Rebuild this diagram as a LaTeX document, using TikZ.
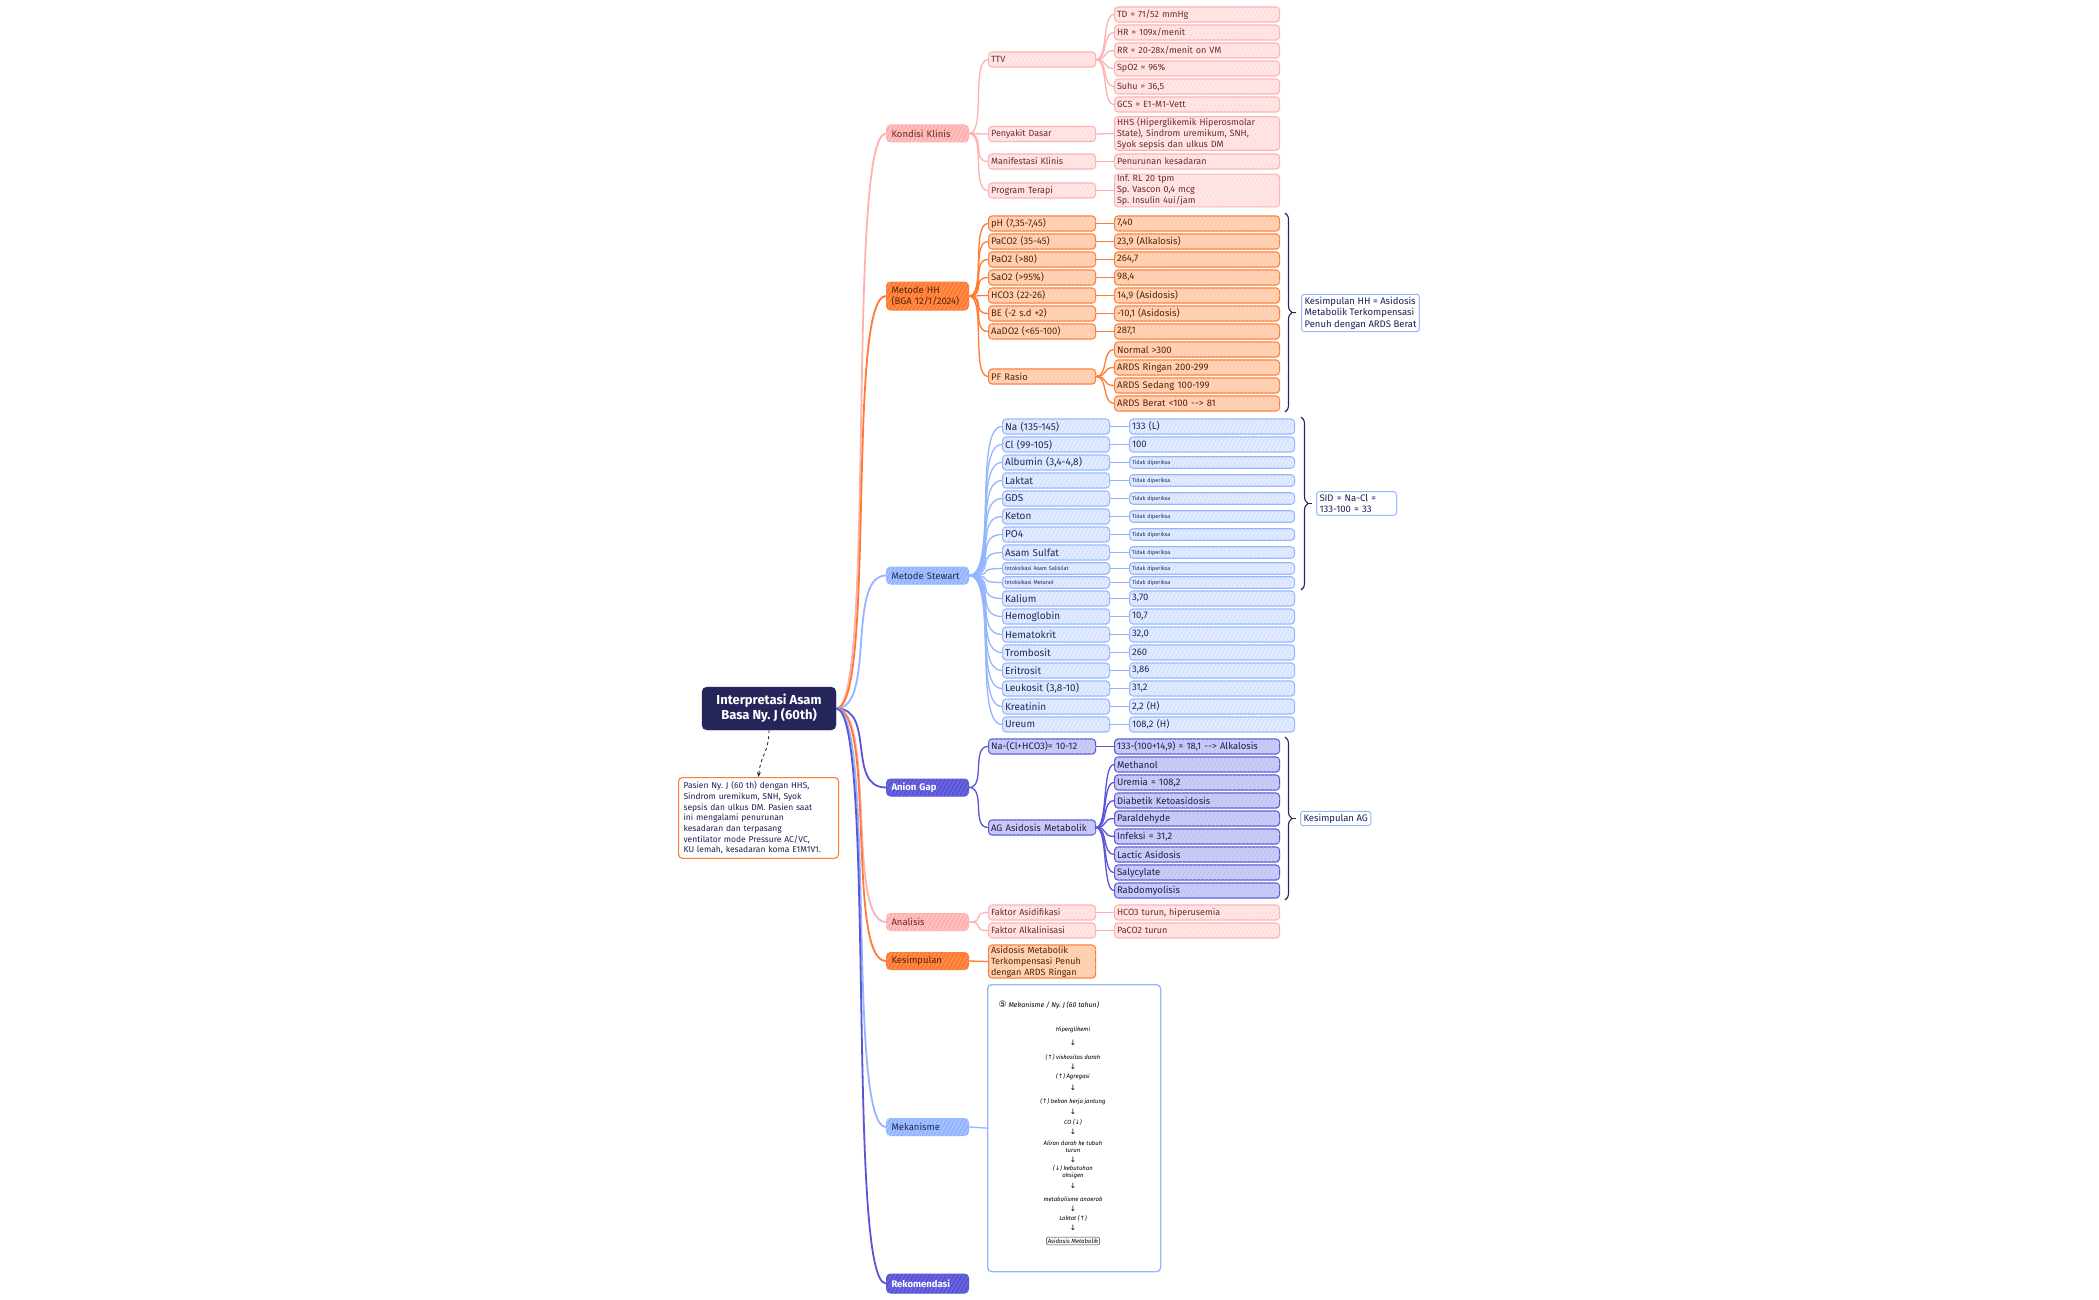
\documentclass[tikz,border=0pt]{standalone}
\usepackage{fontspec}
\setmainfont{Fira Sans}
\newfontfamily\symfont{DejaVu Sans}
\usetikzlibrary{positioning, arrows.meta, calc, patterns.meta, decorations.pathreplacing}
\frenchspacing
\definecolor{mNavy}{HTML}{25255B}
\definecolor{mPink}{HTML}{FFB1B1}
\definecolor{mPinkL}{HTML}{FFE7E7}
\definecolor{mPinkT}{HTML}{6E2A2A}
\definecolor{mOrange}{HTML}{FF7B32}
\definecolor{mOrangeL}{HTML}{FFD3B6}
\definecolor{mOrangeT}{HTML}{5A2400}
\definecolor{mBlue}{HTML}{94B6FF}
\definecolor{mBlueL}{HTML}{E3ECFF}
\definecolor{mBlueT}{HTML}{1F2B5B}
\definecolor{mIndigo}{HTML}{5955D9}
\definecolor{mIndigoL}{HTML}{CBCBF7}
\definecolor{mIndigoT}{HTML}{1F1F55}

\begin{document}
\begin{tikzpicture}[x=1pt, y=-1pt,
  every node/.style={font=\fontsize{9}{11}\selectfont},
  hatch/.style={postaction={pattern={Lines[angle=60,distance=3.5pt,line width=0.5pt]},
                pattern color=#1}},
  curvy/.style={to path={.. controls +(#1,0) and +(-#1,0) .. (\tikztotarget)}},
  topic/.style={anchor=west, rounded corners=4pt, line width=1pt, minimum height=17pt,
                text width=72pt, inner xsep=5pt, inner ysep=1.5pt, align=left,
                font=\fontsize{9.5}{11.5}\selectfont},
  subbox/.style={anchor=west, rounded corners=3.5pt, line width=1.1pt, minimum height=15pt,
                 inner xsep=2.5pt, inner ysep=1pt, align=left},
  kkkey/.style={subbox, draw=mPink, fill=mPinkL, text=mPinkT, hatch=mPink!60, text width=102pt},
  kkleaf/.style={kkkey, text width=160pt},
  hhkey/.style={subbox, draw=mOrange, fill=mOrangeL, text=mOrangeT, hatch=mOrange!45, text width=102pt,
                font=\fontsize{9.5}{11}\selectfont},
  hhleaf/.style={hhkey, text width=160pt},
  stkey/.style={subbox, draw=mBlue, fill=mBlueL, text=mBlueT, hatch=mBlue!55, text width=102pt,
                font=\fontsize{10}{12}\selectfont},
  stleaf/.style={stkey, text width=160pt, font=\fontsize{9.5}{11}\selectfont},
  smallrow/.style={minimum height=11.5pt, font=\fontsize{5.5}{6.5}\selectfont},
  agkey/.style={subbox, draw=mIndigo, fill=mIndigoL, text=mIndigoT, hatch=mIndigo!40, text width=102pt,
                font=\fontsize{9.5}{11}\selectfont},
  agleaf/.style={agkey, text width=160pt},
  summ/.style={anchor=west, draw=mBlue, fill=white, text=mIndigoT, rounded corners=3pt,
               line width=1pt, align=left, inner xsep=3pt, inner ysep=2.5pt,
               font=\fontsize{9.5}{11.5}\selectfont},
  brc/.style={mNavy, line width=1.1pt, decorate, decoration={brace, amplitude=7pt}},
  pline/.style={mPink, line width=1.3pt},
  oline/.style={mOrange, line width=1.3pt},
  bline/.style={mBlue, line width=1.3pt},
  iline/.style={mIndigo, line width=1.3pt},
  hand/.style={font=\fontsize{6}{7}\selectfont\itshape, text=black, align=center, inner sep=0.5pt},
  handarr/.style={font=\symfont\fontsize{7.5}{8}\selectfont, text=black, inner sep=0pt},
]
  \fill[white] (0,0) rectangle (2099,1300);
  \useasboundingbox (0,0) rectangle (2099,1300);

  % Root and note
  \node[fill=mNavy, draw=mNavy, rounded corners=5pt, text=white, align=center,
        minimum width=134pt, minimum height=43pt, inner sep=2pt,
        font=\fontsize{13}{15}\selectfont\bfseries] (root) at (769,708.5)
        {Interpretasi Asam\\Basa Ny. J (60th)};
  \node[draw=mOrange, line width=1.1pt, rounded corners=4pt, fill=white, text=mIndigoT,
        anchor=north west, text width=150pt, inner xsep=5pt, inner ysep=4pt, align=left,
        font=\fontsize{8.5}{10.7}\selectfont] (note) at (678,777)
        {Pasien Ny. J (60 th) dengan HHS,\\Sindrom uremikum, SNH, Syok\\sepsis dan ulkus DM. Pasien saat\\ini mengalami penurunan\\kesadaran dan terpasang\\ventilator mode Pressure AC/VC,\\KU lemah, kesadaran koma E1M1V1.};
  \draw[mNavy, line width=0.9pt, dashed, -{Stealth[length=5pt,width=4pt]}]
    (root.south) .. controls +(0,22) and +(2,-22) .. (note.north);

  % Main topics
  \node[topic, fill=mPink, draw=mPink, text=mPinkT, hatch=white!50!mPink] (kk) at (886,133.5) {Kondisi Klinis};
  \node[topic, fill=mOrange, draw=mOrange, text=mOrangeT, hatch=white!35!mOrange, minimum height=28pt] (hh) at (886,296) {Metode HH\\(BGA 12/1/2024)};
  \node[topic, fill=mBlue, draw=mBlue, text=mBlueT, hatch=white!40!mBlue] (st) at (886,575.5) {Metode Stewart};
  \node[topic, fill=mIndigo, draw=mIndigo, text=white, hatch=white!25!mIndigo,
        font=\fontsize{9.5}{11.5}\selectfont\bfseries] (ag) at (886,787.5) {Anion Gap};
  \node[topic, fill=mPink, draw=mPink, text=mPinkT, hatch=white!50!mPink] (an) at (886,922) {Analisis};
  \node[topic, fill=mOrange, draw=mOrange, text=mOrangeT, hatch=white!35!mOrange] (ks) at (886,961) {Kesimpulan};
  \node[topic, fill=mBlue, draw=mBlue, text=mBlueT, hatch=white!40!mBlue] (mek) at (886,1127) {Mekanisme};
  \node[topic, fill=mIndigo, draw=mIndigo, text=white, hatch=white!25!mIndigo, minimum height=19pt,
        font=\fontsize{9.5}{11.5}\selectfont\bfseries] (rek) at (886,1283.5) {Rekomendasi};

  % Kondisi Klinis
  \node[kkkey] (ttv) at (988,59.5) {TTV};
  \foreach \t [count=\i, evaluate=\i as \y using {-3.5+\i*18}] in
    {TD = 71/52 mmHg, HR = 109x/menit, RR = 20-28x/menit on VM, SpO2 = 96\%, {Suhu = 36,5}, GCS = E1-M1-Vett} {
    \node[kkleaf] (ttv\i) at (1114,\y) {\t};
    \draw[pline] (ttv.east) to[curvy=12] (ttv\i.west);
  }
  \node[kkkey] (pd) at (988,134) {Penyakit Dasar};
  \node[kkleaf] (pdv) at (1114,133.5) {HHS (Hiperglikemik Hiperosmolar\\State), Sindrom uremikum, SNH,\\Syok sepsis dan ulkus DM};
  \node[kkkey] (mk) at (988,161.5) {Manifestasi Klinis};
  \node[kkleaf] (mkv) at (1114,161.5) {Penurunan kesadaran};
  \node[kkkey] (pt) at (988,190.5) {Program Terapi};
  \node[kkleaf] (ptv) at (1114,190.5) {Inf. RL 20 tpm\\Sp. Vascon 0,4 mcg\\Sp. Insulin 4ui/jam};
  \foreach \ka in {ttv,pd,mk,pt}
    \draw[pline] (kk.east) to[curvy=17] (\ka.west);
  \foreach \ka/\va in {pd/pdv, mk/mkv, pt/ptv}
    \draw[pline] (\ka.east) -- (\va.west);

  % Metode HH
  \foreach \ka/\va [count=\i, evaluate=\i as \y using {205.5+\i*18}] in
    {{pH (7,35-7,45)}/{7,40}, {PaCO2 (35-45)}/{23,9 (Alkalosis)}, {PaO2 (>80)}/{264,7},
     {SaO2 (>95\%)}/{98,4}, {HCO3 (22-26)}/{14,9 (Asidosis)}, {BE (-2 s.d +2)}/{-10,1 (Asidosis)},
     {AaDO2 (<65-100)}/{287,1}} {
    \node[hhkey] (hhk\i) at (988,\y) {\ka};
    \node[hhleaf] (hhv\i) at (1114,\y) {\va};
    \draw[oline] (hh.east) to[curvy=17] (hhk\i.west);
    \draw[oline] (hhk\i.east) -- (hhv\i.west);
  }
  \node[hhkey] (pf) at (988,376.5) {PF Rasio};
  \draw[oline] (hh.east) to[curvy=17] (pf.west);
  \foreach \t [count=\i, evaluate=\i as \y using {331.5+\i*18}] in
    {Normal >300, ARDS Ringan 200-299, ARDS Sedang 100-199, ARDS Berat <100 -{}-> 81} {
    \node[hhleaf] (pf\i) at (1114,\y) {\t};
    \draw[oline] (pf.east) to[curvy=12] (pf\i.west);
  }
  \draw[brc] (1285,213) -- (1285,412);
  \coordinate (hhtip) at (1292,312.5);
  \node[summ] (hhsum) at (1301,313) {Kesimpulan HH = Asidosis\\Metabolik Terkompensasi\\Penuh dengan ARDS Berat};
  \draw[mNavy, line width=1pt, shorten >=5pt] (hhtip) -- (hhsum.west);

  % Metode Stewart
  \foreach \ka/\va [count=\i, evaluate=\i as \y using {408.5+\i*18}] in
    {{Na (135-145)}/{133 (L)}, {Cl (99-105)}/100} {
    \node[stkey] (stk\i) at (1002,\y) {\ka};
    \node[stleaf] (stv\i) at (1129,\y) {\va};
    \draw[bline] (st.east) to[curvy=29] (stk\i.west);
    \draw[bline] (stk\i.east) -- (stv\i.west);
  }
  \foreach \ka [count=\i from 3, evaluate=\i as \y using {408.5+\i*18}] in
    {{Albumin (3,4-4,8)}, Laktat, GDS, Keton, PO4, Asam Sulfat} {
    \node[stkey] (stk\i) at (1002,\y) {\ka};
    \node[stleaf, smallrow] (stv\i) at (1129,\y) {Tidak diperiksa};
    \draw[bline] (st.east) to[curvy=29] (stk\i.west);
    \draw[bline] (stk\i.east) -- (stv\i.west);
  }
  \foreach \ka [count=\i from 9, evaluate=\i as \y using {442.5+\i*14}] in
    {Intoksikasi Asam Salisilat, Intoksikasi Metanol} {
    \node[stkey, smallrow] (stk\i) at (1002,\y) {\ka};
    \node[stleaf, smallrow] (stv\i) at (1129,\y) {Tidak diperiksa};
    \draw[bline] (st.east) to[curvy=29] (stk\i.west);
    \draw[bline] (stk\i.east) -- (stv\i.west);
  }
  \foreach \ka/\va [count=\i from 11, evaluate=\i as \y using {400.5+\i*18}] in
    {Kalium/{3,70}, Hemoglobin/{10,7}, Hematokrit/{32,0}, Trombosit/260, Eritrosit/{3,86},
     {Leukosit (3,8-10)}/{31,2}, Kreatinin/{2,2 (H)}, Ureum/{108,2 (H)}} {
    \node[stkey] (stk\i) at (1002,\y) {\ka};
    \node[stleaf] (stv\i) at (1129,\y) {\va};
    \draw[bline] (st.east) to[curvy=29] (stk\i.west);
    \draw[bline] (stk\i.east) -- (stv\i.west);
  }
  \draw[brc] (1301,417) -- (1301,590);
  \coordinate (sttip) at (1308,503.5);
  \node[summ, text width=74pt] (stsum) at (1316,503.5) {SID = Na-Cl =\\133-100 = 33};
  \draw[mNavy, line width=1pt, shorten >=4pt] (sttip) -- (stsum.west);

  % Anion Gap
  \node[agkey] (agk1) at (988,746.5) {Na-(Cl+HCO3)= 10-12};
  \node[agleaf] (agv1) at (1114,746.5) {133-(100+14,9) = 18,1 -{}-> Alkalosis};
  \node[agkey] (agk2) at (988,827.5) {AG Asidosis Metabolik};
  \draw[iline] (ag.east) to[curvy=17] (agk1.west);
  \draw[iline] (ag.east) to[curvy=17] (agk2.west);
  \draw[iline] (agk1.east) -- (agv1.west);
  \foreach \t [count=\i, evaluate=\i as \y using {746.5+\i*18}] in
    {Methanol, {Uremia = 108,2}, Diabetik Ketoasidosis, Paraldehyde, {Infeksi = 31,2},
     Lactic Asidosis, Salycylate, Rabdomyolisis} {
    \node[agleaf] (agl\i) at (1114,\y) {\t};
    \draw[iline] (agk2.east) to[curvy=12] (agl\i.west);
  }
  \draw[brc] (1285,737) -- (1285,900);
  \coordinate (agtip) at (1292,818.5);
  \node[summ] (agsum) at (1300,818.5) {Kesimpulan AG};
  \draw[mNavy, line width=1pt, shorten >=4pt] (agtip) -- (agsum.west);

  % Analisis and Kesimpulan
  \node[kkkey] (an1) at (988,912.5) {Faktor Asidifikasi};
  \node[kkleaf] (an1v) at (1114,912.5) {HCO3 turun, hiperusemia};
  \node[kkkey] (an2) at (988,930.5) {Faktor Alkalinisasi};
  \node[kkleaf] (an2v) at (1114,930.5) {PaCO2 turun};
  \foreach \ka/\va in {an1/an1v, an2/an2v} {
    \draw[pline] (an.east) to[curvy=17] (\ka.west);
    \draw[pline] (\ka.east) -- (\va.west);
  }
  \node[hhkey, font=\fontsize{9}{11}\selectfont] (ksv) at (988,961.5) {Asidosis Metabolik\\Terkompensasi Penuh\\dengan ARDS Ringan};
  \draw[oline] (ks.east) -- (ksv.west);

  % Mekanisme (handwritten sheet)
  \node[draw=mBlue, line width=1.3pt, rounded corners=4pt, fill=white, anchor=north west,
        minimum width=173pt, minimum height=287pt, inner sep=0pt] (mekimg) at (987,984) {};
  \draw[bline] (mek.east) -- (mekimg.west);
  \node[hand, anchor=west, font=\fontsize{7}{8}\selectfont\itshape] (hw0) at (998,1005)
    {{\symfont\fontsize{9}{9}\selectfont ⑤}\ Mekanisme / Ny. J (60 tahun)};
  \foreach \y/\t [count=\i] in
    {1030/Hiperglikemi, 1057/{({\symfont ↑}) viskositas darah}, 1077/{({\symfont ↑}) Agregasi},
     1102/{({\symfont ↑}) beban kerja jantung}, 1122/{CO ({\symfont ↓})},
     1147/{Aliran darah ke tubuh\\turun}, 1172/{({\symfont ↓}) kebutuhan\\oksigen},
     1199/metabolisme anaerob, 1218/{Laktat ({\symfont ↑})}}
    \node[hand] (hw\i) at (1073,\y) {\t};
  \foreach \y [count=\i] in {1043,1067,1088,1112,1132,1160,1186,1209,1228}
    \node[handarr] (ha\i) at (1073,\y) {↓};
  \node[hand, draw=black!80, rounded corners=2pt, inner sep=1.5pt] (hwend) at (1073,1241) {Asidosis Metabolik};

  % Root connectors
  \foreach \m/\c in {kk/mPink, hh/mOrange, st/mBlue, ag/mIndigo, an/mPink, ks/mOrange, mek/mBlue, rek/mIndigo}
    \draw[draw=\c, line width=1.8pt] (root.east) to[curvy=40] (\m.west);
\end{tikzpicture}
\end{document}
